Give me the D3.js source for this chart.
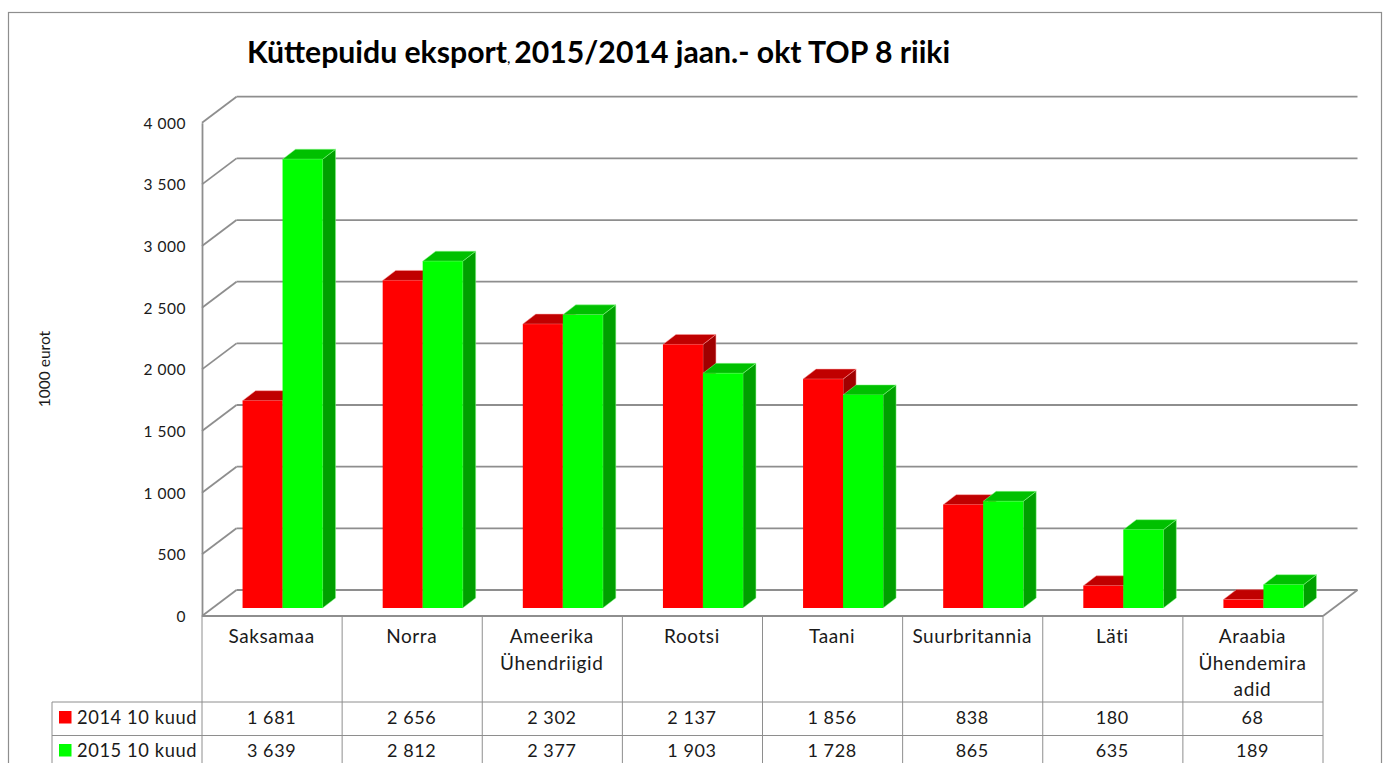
<!DOCTYPE html>
<html lang="et">
<head>
    <meta charset="utf-8" />
    <script src="https://d3js.org/d3.v7.min.js"></script>
    <title>Küttepuidu eksport</title>
    <style>
        html, body { margin: 0; padding: 0; background: #fff; overflow: hidden; }
        svg { display: block; }
        text { font-family: Lato, "Open Sans", sans-serif; fill: #1a1a1a; }
    </style>
</head>
<body>
    <div id="container"></div>
    <script>
        const categories = ["Saksamaa", "Norra", "Ameerika Ühendriigid", "Rootsi", "Taani", "Suurbritannia", "Läti", "Araabia Ühendemira adid"];
        const categoryLines = [["Saksamaa"], ["Norra"], ["Ameerika", "Ühendriigid"], ["Rootsi"], ["Taani"], ["Suurbritannia"], ["Läti"], ["Araabia", "Ühendemira", "adid"]];
        const seriesNames = ["2014 10 kuud", "2015 10 kuud"];
        const values2014 = [1681, 2656, 2302, 2137, 1856, 838, 180, 68];
        const values2015 = [3639, 2812, 2377, 1903, 1728, 865, 635, 189];
        const yTicks = [0, 500, 1000, 1500, 2000, 2500, 3000, 3500, 4000];

        const w = 1386;
        const h = 763;
        const GREY = "#8e8e8e";
        // depth of the 3d box and of the bars
        const DX = 34.5, DY = 26;
        const BAR_DX = 13, BAR_DY = 10;
        const BAR_SHIFT = 10.5, BAR_BASE = 8;
        const BAR_W = 40;
        const colors = [
            {front: "#ff0000", top: "#c00000", side: "#a00000", edge: "#ff9c9c"},
            {front: "#00ff00", top: "#00c000", side: "#00a000", edge: "#8cff8c"}
        ];

        const fmt = d3.formatLocale({decimal: ",", thousands: " ", grouping: [3], currency: ["", ""]}).format(",d");

        const svg = d3.select("#container").append("svg").attr("width", w).attr("height", h);

        // outer frame, runs off the bottom of the picture
        svg.append("rect").attr("x", 8.5).attr("y", 12.5).attr("width", 1373).attr("height", 800)
           .attr("fill", "#fff").attr("stroke", GREY).attr("stroke-width", 1.2);

        const yScale = d3.scaleLinear().domain([0, 4000]).range([616, 122.7]);
        const xScale = d3.scaleBand().domain(categories).range([202, 1323]);
        const xInner = d3.scaleBand().domain(seriesNames).range([0, BAR_W * 2]);

        // walls
        const grid = svg.append("g").attr("fill", "none").attr("stroke", GREY).attr("stroke-width", 1.8);
        grid.selectAll("line.back").data(yTicks).enter().append("line")
            .attr("x1", 202 + DX).attr("x2", 1323 + DX)
            .attr("y1", d => yScale(d) - DY).attr("y2", d => yScale(d) - DY);
        grid.selectAll("line.side").data(yTicks).enter().append("line")
            .attr("x1", 202).attr("x2", 202 + DX)
            .attr("y1", d => yScale(d)).attr("y2", d => yScale(d) - DY);
        grid.append("line").attr("x1", 1323).attr("x2", 1323 + DX).attr("y1", yScale(0)).attr("y2", yScale(0) - DY);

        // bars
        const groups = svg.append("g").selectAll("g").data(categories).enter().append("g");
        seriesNames.forEach(function(name, s) {
            const vals = s === 0 ? values2014 : values2015;
            const c = colors[s];
            const bars = groups.append("g").datum((d, i) => {
                const barH = yScale(0) - yScale(vals[i]);
                const x = xScale(d) + (xScale.bandwidth() - BAR_W * 2) / 2 + BAR_SHIFT + xInner(name);
                return {x: x, bottom: yScale(0) - BAR_BASE, top: yScale(0) - BAR_BASE - barH};
            });
            bars.append("path").attr("fill", c.side).attr("stroke", c.edge).attr("stroke-width", 0.5)
                .attr("d", d => d3.line()([
                    [d.x + BAR_W, d.bottom], [d.x + BAR_W, d.top],
                    [d.x + BAR_W + BAR_DX, d.top - BAR_DY], [d.x + BAR_W + BAR_DX, d.bottom - BAR_DY]
                ]) + "Z");
            bars.append("path").attr("fill", c.top).attr("stroke", c.edge).attr("stroke-width", 0.5)
                .attr("d", d => d3.line()([
                    [d.x, d.top], [d.x + BAR_W, d.top],
                    [d.x + BAR_W + BAR_DX, d.top - BAR_DY], [d.x + BAR_DX, d.top - BAR_DY]
                ]) + "Z");
            bars.append("rect").attr("fill", c.front)
                .attr("x", d => d.x).attr("y", d => d.top)
                .attr("width", BAR_W).attr("height", d => d.bottom - d.top);
        });

        // y axis
        const yAxis = d3.axisLeft(yScale).tickValues(yTicks).tickSize(0).tickPadding(16).tickFormat(fmt);
        const yG = svg.append("g").attr("transform", "translate(202,0)").call(yAxis);
        yG.select(".domain").attr("stroke", GREY).attr("stroke-width", 1.8);
        yG.selectAll("text").attr("font-size", 15.5).attr("dy", "0.35em").style("font-family", "Lato").style("letter-spacing", "0.5px").attr("fill", "#1a1a1a");

        svg.append("text").attr("transform", "translate(50,369) rotate(-90)")
           .attr("text-anchor", "middle").attr("font-size", 15.5).text("1000 eurot");

        // title
        const title = svg.append("text").attr("x", 247).attr("y", 63).attr("font-size", 30.2).attr("font-weight", 700).style("fill", "#000");
        title.append("tspan").text("Küttepuidu eksport");
        title.append("tspan").attr("font-size", 15).attr("font-weight", 400).text(", ");
        title.append("tspan").text("2015/2014 jaan.- okt TOP 8 riiki");

        // data table
        const rowLines = [702, 735.5];
        const table = svg.append("g").attr("stroke", GREY).attr("stroke-width", 1);
        const columnEdges = categories.map(d => xScale(d)).concat([1323]);
        table.selectAll("line.col").data(columnEdges).enter().append("line")
             .attr("x1", d => d).attr("x2", d => d).attr("y1", 616).attr("y2", h);
        table.selectAll("line.row").data(rowLines).enter().append("line")
             .attr("x1", 52).attr("x2", 1323).attr("y1", d => d).attr("y2", d => d);
        table.append("line").attr("x1", 52).attr("x2", 52).attr("y1", 702).attr("y2", h);
        table.append("line").attr("x1", 202).attr("x2", 1323).attr("y1", 616).attr("y2", 616).attr("stroke-width", 1.8);

        const labelG = svg.append("g").attr("font-size", 19).attr("text-anchor", "middle").style("letter-spacing", "0.6px");
        labelG.selectAll("text").data(categories).enter().append("text")
              .attr("x", d => xScale(d) + xScale.bandwidth() / 2 - 0.5)
              .attr("y", 643)
              .each(function(d, i) {
                  d3.select(this).selectAll("tspan").data(categoryLines[i]).enter().append("tspan")
                    .attr("x", xScale(d) + xScale.bandwidth() / 2 - 0.5)
                    .attr("dy", (l, j) => j === 0 ? 0 : 26.5)
                    .text(l => l);
              });

        [values2014, values2015].forEach(function(vals, s) {
            const rowY = [724, 757][s];
            const row = svg.append("g").attr("font-size", 18).style("letter-spacing", "0.6px");
            row.append("rect").attr("x", 59).attr("y", rowY - 13).attr("width", 12.5).attr("height", 12.5).attr("fill", colors[s].front);
            row.append("text").attr("x", 77).attr("y", rowY).attr("font-size", 18.3).text(seriesNames[s]);
            row.selectAll("text.val").data(vals).enter().append("text")
               .attr("class", "val").attr("text-anchor", "middle")
               .attr("x", (d, i) => xScale(categories[i]) + xScale.bandwidth() / 2 - 0.5)
               .attr("y", rowY).text(d => fmt(d));
        });
    </script>
</body>
</html>
